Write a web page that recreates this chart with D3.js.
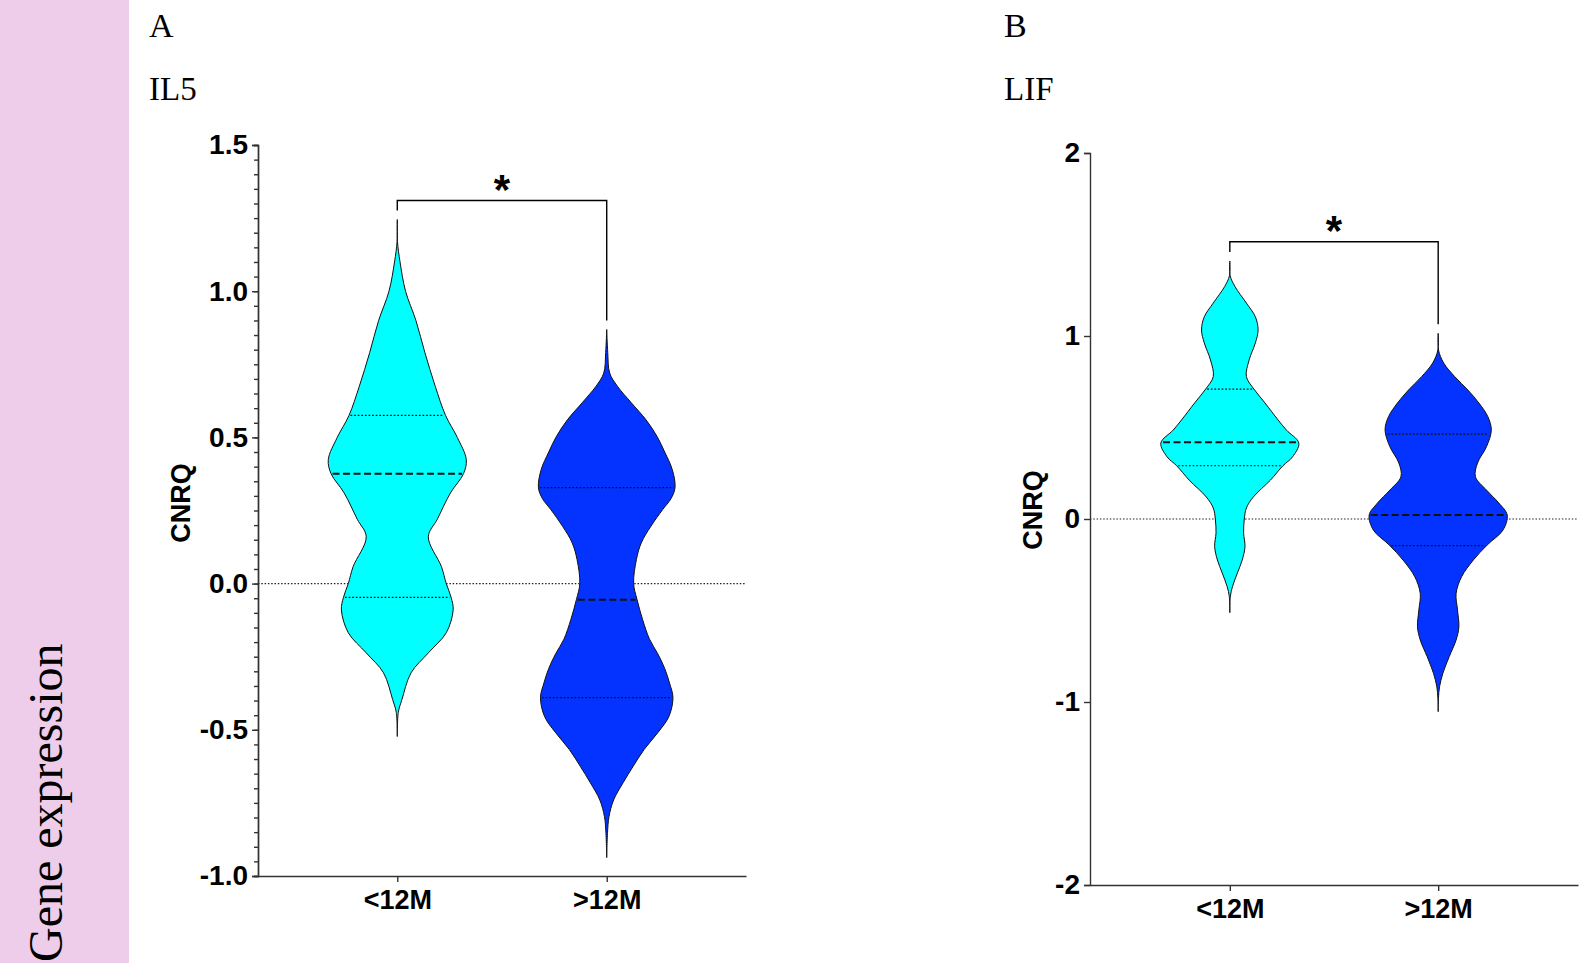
<!DOCTYPE html>
<html>
<head>
<meta charset="utf-8">
<script src="https://cdn.jsdelivr.net/npm/d3@7"></script>
<style>
  body { margin: 0; background: #fff; }
  svg { display: block; }
  .tick text { font-family: "Liberation Sans", Arial, sans-serif; font-weight: bold; fill: #000; }
  .yAxis .tick text { font-size: 28px; }
  .xAxis .tick text { font-size: 27px; }
  .axis path, .axis line { stroke: #333; stroke-width: 1.4; }
  .panelLetter, .geneName { font-family: "Liberation Serif", "Times New Roman", serif; fill: #000; }
  .yLabel { font-family: "Liberation Sans", Arial, sans-serif; font-weight: bold; font-size: 27px; }
  .star { font-family: "Liberation Sans", Arial, sans-serif; font-weight: bold; font-size: 42px; }
</style>
</head>
<body>
<div id="chart"></div>
<script>
// data
const categories = ["<12M", ">12M"];

const il5Ticks = [-1, -0.5, 0, 0.5, 1, 1.5];
const lifTicks = [-2, -1, 0, 1, 2];

// violin outlines: [CNRQ value, relative half-width]
const il5Under12 = [
  [1.245, 0], [1.17, 0.003], [1.1, 0.04], [1.0, 0.12], [0.9, 0.27], [0.79, 0.40],
  [0.675, 0.55], [0.575, 0.70], [0.50, 0.87], [0.424, 1.0], [0.376, 0.96], [0.31, 0.77],
  [0.22, 0.58], [0.16, 0.45], [0.058, 0.64], [0.0, 0.71], [-0.047, 0.78], [-0.09, 0.81],
  [-0.168, 0.71], [-0.237, 0.45], [-0.305, 0.20], [-0.397, 0.067], [-0.44, 0.015], [-0.523, 0]
];
const il5Over12 = [
  [0.869, 0], [0.79, 0.015], [0.72, 0.043], [0.675, 0.155], [0.62, 0.35], [0.56, 0.57],
  [0.503, 0.73], [0.45, 0.84], [0.39, 0.95], [0.328, 0.99], [0.29, 0.93],
  [0.253, 0.81], [0.196, 0.64], [0.139, 0.50], [0.082, 0.43], [0.0, 0.39], [-0.055, 0.44],
  [-0.123, 0.52], [-0.19, 0.62], [-0.24, 0.74], [-0.29, 0.84], [-0.34, 0.91], [-0.39, 0.96],
  [-0.455, 0.90], [-0.51, 0.74], [-0.568, 0.54], [-0.626, 0.38], [-0.68, 0.24], [-0.74, 0.10],
  [-0.797, 0.033], [-0.85, 0.012], [-0.937, 0]
];
const lifUnder12 = [
  [1.41, 0], [1.33, 0.005], [1.27, 0.075], [1.18, 0.24], [1.105, 0.37], [1.033, 0.41],
  [0.962, 0.37], [0.869, 0.28], [0.778, 0.24], [0.71, 0.35], [0.634, 0.51], [0.541, 0.70],
  [0.486, 0.82], [0.415, 1.0], [0.34, 0.91], [0.291, 0.77], [0.213, 0.59], [0.12, 0.34],
  [0.06, 0.24], [0.0, 0.21], [-0.077, 0.20], [-0.15, 0.22], [-0.224, 0.18], [-0.295, 0.11],
  [-0.37, 0.038], [-0.425, 0.007], [-0.512, 0]
];
const lifOver12 = [
  [1.015, 0], [0.923, 0.005], [0.852, 0.08], [0.778, 0.24], [0.705, 0.43], [0.634, 0.59],
  [0.559, 0.72], [0.486, 0.77], [0.395, 0.70], [0.306, 0.57], [0.231, 0.54], [0.158, 0.70],
  [0.087, 0.88], [0.022, 1.0], [-0.06, 0.94], [-0.142, 0.71], [-0.224, 0.51], [-0.315, 0.34],
  [-0.406, 0.26], [-0.497, 0.28], [-0.589, 0.30], [-0.661, 0.26], [-0.752, 0.16], [-0.843, 0.068],
  [-0.916, 0.02], [-0.98, 0.004], [-1.053, 0]
];

// medians and quartiles per group
const il5Median = [0.376, -0.055];
const il5Q1 = [-0.047, -0.39];
const il5Q3 = [0.575, 0.328];
const lifMedian = [0.419, 0.022];
const lifQ1 = [0.291, -0.146];
const lifQ3 = [0.71, 0.464];

// significance bracket height
const il5Bracket = 1.31;
const lifBracket = 1.515;

const groupColours = ["#00ffff", "#0433ff"];

// setup
const width = 1583;
const height = 976;

const svg = d3.select("#chart").append("svg")
    .attr("width", width)
    .attr("height", height);

// side strip
svg.append("rect")
    .attr("x", 0)
    .attr("y", 0)
    .attr("width", 129)
    .attr("height", 963)
    .attr("fill", "#edcdea");

svg.append("text")
    .attr("class", "geneName")
    .attr("transform", "translate(62, 962) rotate(-90)")
    .attr("font-size", 48)
    .attr("text-anchor", "start")
    .text("Gene expression");

// look up half-width at a value by linear interpolation of an outline
function widthAt(profile, v) {
  for (let i = 0; i < profile.length - 1; i++) {
    const a = profile[i], b = profile[i + 1];
    if (v <= a[0] && v >= b[0]) {
      const t = (a[0] - v) / (a[0] - b[0]);
      return a[1] + t * (b[1] - a[1]);
    }
  }
  return 0;
}

function drawPanel(p) {
  const g = svg.append("g");

  const y = d3.scaleLinear()
      .domain(p.domain)
      .range([p.bottom, p.top]);

  const x = d3.scalePoint()
      .domain(categories)
      .range([p.left, p.right])
      .padding(p.padding);

  const w = d3.scaleLinear()
      .domain([0, 1])
      .range([0, 69]);

  // titles
  g.append("text")
      .attr("class", "panelLetter")
      .attr("x", p.left - p.titleOffset)
      .attr("y", 37)
      .attr("font-size", 34)
      .text(p.letter);

  g.append("text")
      .attr("class", "geneName")
      .attr("x", p.left - p.titleOffset)
      .attr("y", 100)
      .attr("font-size", 33)
      .text(p.gene);

  // zero line
  g.append("line")
      .attr("x1", p.left)
      .attr("x2", p.right)
      .attr("y1", y(0))
      .attr("y2", y(0))
      .attr("stroke", "#222")
      .attr("stroke-width", 1.2)
      .attr("stroke-dasharray", "1.5,1.8");

  // violins
  p.profiles.forEach((profile, i) => {
    const cx = x(categories[i]);

    const area = d3.area()
        .curve(d3.curveCatmullRom.alpha(0.5))
        .y(d => y(d[0]))
        .x0(d => cx - w(d[1]))
        .x1(d => cx + w(d[1]));

    g.append("path")
        .attr("class", "violin")
        .attr("d", area(profile))
        .attr("fill", groupColours[i])
        .attr("stroke", "#111")
        .attr("stroke-width", 1);

    const lines = [
      {v: p.q3[i], dash: "1.8,1.8", sw: 1.2},
      {v: p.median[i], dash: "7,3.5", sw: 2},
      {v: p.q1[i], dash: "1.8,1.8", sw: 1.2}
    ];

    g.selectAll(null)
      .data(lines)
        .enter()
      .append("line")
        .attr("x1", d => cx - w(widthAt(profile, d.v)) + 1.5)
        .attr("x2", d => cx + w(widthAt(profile, d.v)) - 1.5)
        .attr("y1", d => y(d.v))
        .attr("y2", d => y(d.v))
        .attr("stroke", "#111")
        .attr("stroke-width", d => d.sw)
        .attr("stroke-dasharray", d => d.dash);
  });

  // significance bracket
  const x1 = x(categories[0]), x2 = x(categories[1]);
  const top1 = y(p.profiles[0][0][0]) - 9;
  const top2 = y(p.profiles[1][0][0]) - 9;
  const by = y(p.bracket);

  g.append("path")
      .attr("d", `M${x1},${top1}V${by}H${x2}V${top2}`)
      .attr("fill", "none")
      .attr("stroke", "#000")
      .attr("stroke-width", 1.4);

  g.append("text")
      .attr("class", "star")
      .attr("x", (x1 + x2) / 2)
      .attr("y", by + 3)
      .attr("text-anchor", "middle")
      .text("*");

  // axes
  if (p.minorTicks) {
    g.append("g")
        .attr("class", "axis")
        .attr("transform", `translate(${p.left},0)`)
        .call(d3.axisLeft(y).tickValues(p.minorTicks).tickSize(4).tickFormat(""));
  }

  g.append("g")
      .attr("class", "axis yAxis")
      .attr("transform", `translate(${p.left},0)`)
      .call(d3.axisLeft(y)
          .tickValues(p.ticks)
          .tickSize(6)
          .tickPadding(4)
          .tickFormat(p.format));

  g.append("g")
      .attr("class", "axis xAxis")
      .attr("transform", `translate(0,${p.bottom})`)
      .call(d3.axisBottom(x).tickSize(6).tickSizeOuter(0).tickPadding(8));

  g.selectAll(".axis .tick text").attr("fill", "#000");

  g.append("text")
      .attr("class", "yLabel")
      .attr("transform", `translate(${p.left - p.labelOffset},${p.labelY}) rotate(-90)`)
      .attr("text-anchor", "middle")
      .text("CNRQ");
}

drawPanel({
  letter: "A",
  gene: "IL5",
  domain: [-1, 1.5],
  top: 145,
  bottom: 876,
  left: 258,
  right: 746,
  padding: 0.665,
  titleOffset: 109,
  ticks: il5Ticks,
  minorTicks: d3.range(-1, 1.5001, 0.05).map(d => +d.toFixed(2)),
  format: d => d.toFixed(1),
  profiles: [il5Under12, il5Over12],
  median: il5Median,
  q1: il5Q1,
  q3: il5Q3,
  bracket: il5Bracket,
  labelOffset: 68,
  labelY: 503
});

drawPanel({
  letter: "B",
  gene: "LIF",
  domain: [-2, 2],
  top: 153,
  bottom: 885,
  left: 1090,
  right: 1578,
  padding: 0.671,
  titleOffset: 86,
  ticks: lifTicks,
  minorTicks: null,
  format: d => d.toFixed(0),
  profiles: [lifUnder12, lifOver12],
  median: lifMedian,
  q1: lifQ1,
  q3: lifQ3,
  bracket: lifBracket,
  labelOffset: 48,
  labelY: 510
});
</script>
</body>
</html>
